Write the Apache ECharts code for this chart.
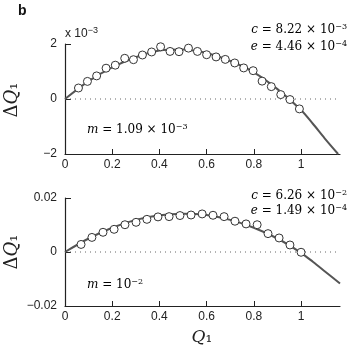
<!DOCTYPE html>
<html>
<head>
<meta charset="utf-8">
<script src="https://cdn.jsdelivr.net/npm/echarts@6/dist/echarts.min.js"></script>
<style>
  html, body { margin: 0; padding: 0; background: #fff; }
  #chart { width: 350px; height: 349px; }
</style>
</head>
<body>
<div id="chart"></div>
<script>
// top panel (values in units of 1e-3)
var qTop = [0.057, 0.095, 0.134, 0.174, 0.213, 0.253, 0.290, 0.328, 0.367, 0.405, 0.445, 0.483, 0.523,
  0.561, 0.600, 0.640, 0.679, 0.719, 0.757, 0.797, 0.835, 0.874, 0.914, 0.953, 0.993];
var dqTop = [0.40, 0.64, 0.84, 1.12, 1.23, 1.48, 1.43, 1.60, 1.71, 1.90, 1.73, 1.72, 1.85,
  1.73, 1.61, 1.53, 1.44, 1.31, 1.13, 1.03, 0.65, 0.45, 0.16, -0.02, -0.36];
// bottom panel
var qBot = [0.068, 0.114, 0.161, 0.208, 0.254, 0.301, 0.347, 0.394, 0.441, 0.487, 0.534,
  0.581, 0.627, 0.674, 0.720, 0.767, 0.814, 0.860, 0.907, 0.953, 1.000];
var dqBot = [0.0028, 0.0054, 0.0073, 0.0084, 0.0101, 0.0110, 0.0121, 0.0130, 0.0131, 0.0135, 0.0137,
  0.0141, 0.0136, 0.0131, 0.0114, 0.0104, 0.0101, 0.0068, 0.0052, 0.0026, -0.0001];
// fitted curves
var fitQTop = [0, 0.1, 0.2, 0.3, 0.4, 0.5, 0.6, 0.7, 0.8, 0.9, 1.0, 1.05, 1.1, 1.157];
var fitTop = [0, 0.65, 1.15, 1.52, 1.76, 1.80, 1.67, 1.38, 0.97, 0.36, -0.40, -0.90, -1.43, -2.0];
var fitQBot = [0, 0.1, 0.2, 0.3, 0.4, 0.5, 0.6, 0.7, 0.8, 0.9, 1.0, 1.05, 1.1, 1.165];
var fitBot = [0, 0.0050, 0.0090, 0.0119, 0.0136, 0.0142, 0.0137, 0.0119, 0.0090, 0.0050, -0.0003, -0.0036, -0.0071, -0.0117];
var xTicks = [0, 0.2, 0.4, 0.6, 0.8, 1];
var xMax = 1.165;

var pair = function (xs, ys) { return xs.map(function (x, i) { return [x, ys[i]]; }); };
var minus = function (v) { return String(v).replace('-', '\u2212'); };

var sans = 'Liberation Sans';
var serif = 'DejaVu Serif';
var ink = '#222';

var makeX = function (gi) {
  return {
    type: 'value', gridIndex: gi, min: 0, max: xMax,
    axisLine: { show: true, onZero: false, lineStyle: { color: ink, width: 1.2 } },
    axisTick: { show: true, inside: true, length: 5, customValues: xTicks, lineStyle: { color: ink } },
    axisLabel: { customValues: xTicks, color: ink, fontFamily: sans, fontSize: 12, margin: 5 },
    splitLine: { show: false }
  };
};
var makeY = function (gi, mn, mx, iv) {
  return {
    type: 'value', gridIndex: gi, min: mn, max: mx, interval: iv,
    axisLine: { show: true, onZero: false, lineStyle: { color: ink, width: 1.2 } },
    axisTick: { show: true, inside: true, length: 6, lineStyle: { color: ink } },
    axisLabel: { color: ink, fontFamily: sans, fontSize: 12, margin: 8, formatter: minus },
    splitLine: { show: false }
  };
};

var curve = function (gi, xs, ys) {
  return {
    type: 'line', xAxisIndex: gi, yAxisIndex: gi, data: pair(xs, ys), smooth: 0.3,
    showSymbol: false, lineStyle: { color: '#555', width: 2 }, z: 2, silent: true
  };
};
var zero = function (gi) {
  return {
    type: 'line', xAxisIndex: gi, yAxisIndex: gi, data: [[0, 0], [xMax, 0]], showSymbol: false,
    lineStyle: { color: '#666', width: 1, type: [1, 4] }, z: 1, silent: true
  };
};
var dots = function (gi, xs, ys) {
  return {
    type: 'scatter', xAxisIndex: gi, yAxisIndex: gi, data: pair(xs, ys), symbol: 'circle', symbolSize: 8,
    itemStyle: { color: '#fff', borderColor: '#333', borderWidth: 1, opacity: 1 }, z: 3
  };
};

var rich = {
  i: { fontFamily: serif, fontStyle: 'italic', fontSize: 12, color: '#333' },
  n: { fontFamily: serif, fontSize: 12, color: '#333' },
  s: { fontFamily: serif, fontSize: 8, color: '#333', verticalAlign: 'top', padding: [0, 0, 6, 0] }
};
var note = function (txt, x, y, align) {
  return { type: 'text', x: x, y: y, style: { text: txt, rich: rich, align: align || 'right', verticalAlign: 'middle' } };
};

var chart = echarts.init(document.getElementById('chart'));
chart.setOption({
  animation: false,
  grid: [
    { left: 65, top: 44, width: 275, height: 110 },
    { left: 65, top: 198, width: 275, height: 108 }
  ],
  xAxis: [makeX(0), makeX(1)],
  yAxis: [makeY(0, -2, 2, 2), makeY(1, -0.02, 0.02, 0.02)],
  series: [
    zero(0), curve(0, fitQTop, fitTop), dots(0, qTop, dqTop),
    zero(1), curve(1, fitQBot, fitBot), dots(1, qBot, dqBot)
  ],
  graphic: [
    { type: 'text', x: 18, y: 4, style: { text: 'b', fontFamily: sans, fontWeight: 'bold', fontSize: 14, fill: '#111' } },
    { type: 'text', x: 65, y: 26, style: { text: 'x 10{s|\u22123}', rich: { s: { fontFamily: sans, fontSize: 9, padding: [0, 0, 6, 0] } }, fontFamily: sans, fontSize: 12, fill: ink } },
    note('{i|c}{n| = 8.22 \u00d7 10}{s|\u22123}', 347, 30),
    note('{i|e}{n| = 4.46 \u00d7 10}{s|\u22124}', 347, 47),
    note('{i|m}{n| = 1.09 \u00d7 10}{s|\u22123}', 87, 130, 'left'),
    note('{i|c}{n| = 6.26 \u00d7 10}{s|\u22122}', 347, 196),
    note('{i|e}{n| = 1.49 \u00d7 10}{s|\u22124}', 347, 211),
    note('{i|m}{n| = 10}{s|\u22122}', 87, 285, 'left'),
    { type: 'text', x: 12, y: 100, rotation: Math.PI / 2, style: { text: '\u0394{q|Q}\u2081', rich: { q: { fontFamily: serif, fontStyle: 'italic', fontSize: 18 } }, fontFamily: serif, fontSize: 18, fill: '#222', align: 'center', verticalAlign: 'middle' } },
    { type: 'text', x: 12, y: 252, rotation: Math.PI / 2, style: { text: '\u0394{q|Q}\u2081', rich: { q: { fontFamily: serif, fontStyle: 'italic', fontSize: 18 } }, fontFamily: serif, fontSize: 18, fill: '#222', align: 'center', verticalAlign: 'middle' } },
    { type: 'text', x: 202, y: 338, style: { text: '{q|Q}\u2081', rich: { q: { fontFamily: serif, fontStyle: 'italic', fontSize: 17 } }, fontFamily: serif, fontSize: 17, fill: '#222', align: 'center', verticalAlign: 'middle' } }
  ]
});
</script>
</body>
</html>
